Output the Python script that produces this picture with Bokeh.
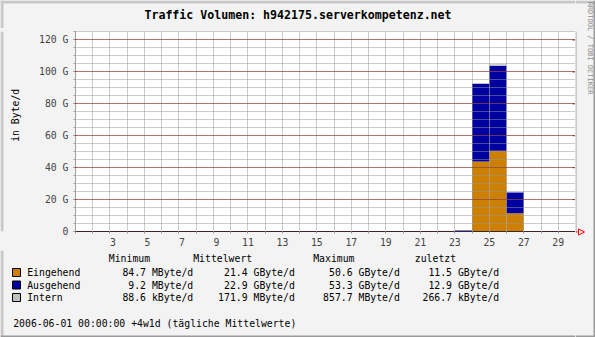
import math
from bokeh.plotting import figure
from bokeh.layouts import row, column
from bokeh.models import Range1d, FixedTicker, ColumnDataSource
from bokeh.core.properties import value
from bokeh.embed import file_html
from bokeh.resources import INLINE

W, H = 595, 337

# ---- data (GByte per day) ----
days = [22, 23, 24, 25, 26]
eingehend = [0.0, 0.1, 43.9, 50.6, 11.5]
ausgehend = [0.0, 0.45, 48.6, 53.3, 12.9]
intern = [0.45, 0.05, 0.6, 0.86, 0.0003]

x_ticks = list(range(1, 31))
x_label_days = list(range(3, 30, 2))
y_ticks = [0, 20, 40, 60, 80, 100, 120]
y_labels = ["0", "20 G", "40 G", "60 G", "80 G", "100 G", "120 G"]
y_minor = list(range(0, 126, 5))

title = "Traffic Volumen: h942175.serverkompetenz.net"
y_title = "in Byte/d"
footer = "2006-06-01 00:00:00 +4w1d (tägliche Mittelwerte)"
credit = "RRDTOOL / TOBI OETIKER"

series_names = ["Eingehend", "Ausgehend", "Intern"]
series_colors = ["#CC7F00", "#0000A0", "#C0C0C0"]
stat_headers = ["Minimum", "Mittelwert", "Maximum", "zuletzt"]
stat_min = ["84.7 MByte/d", "9.2 MByte/d", "88.6 kByte/d"]
stat_avg = ["21.4 GByte/d", "22.9 GByte/d", "171.9 MByte/d"]
stat_max = ["50.6 GByte/d", "53.3 GByte/d", "857.7 MByte/d"]
stat_last = ["11.5 GByte/d", "12.9 GByte/d", "266.7 kByte/d"]

MONO = "DejaVu Sans Mono"
FS = "9.8px"
BG = "#F3F3F3"
SHADEA = "#C8C8C8"
SHADEB = "#9A9A9A"
GRID = "#999999"
MGRID = "#8B1A1A"
AXIS = "#A0A0A0"

# canvas layout (pixels): frame of the chart
FL, FR, FT, FB = 75, 575, 31, 231
TOP_H = 28          # title strip height
LEFT_W = 25         # y-title strip width
MID_B = 250         # bottom of chart strip


def strip(x0, x1, y0, y1):
    f = figure(width=x1 - x0, height=y1 - y0, x_range=Range1d(x0, x1),
               y_range=Range1d(y1, y0), output_backend="svg", toolbar_location=None,
               min_border=0, x_axis_location=None, y_axis_location=None,
               outline_line_color=None, background_fill_color=BG, border_fill_color=BG)
    f.grid.visible = False
    return f


def band(f, l, r, t, b, color):
    f.quad(left=[l], right=[r], top=[t], bottom=[b], fill_color=color, line_color=None)


def txt(f, s, x, y, align="left", size=FS, bold=False, color="black", angle=0.0):
    f.text(x=[x], y=[y], text=[s], text_align=align, text_baseline="middle",
           text_font=value(MONO), text_font_size=value(size),
           text_font_style="bold" if bold else "normal", text_color=color, angle=angle)


# ---------------- chart ----------------
src = ColumnDataSource(dict(
    x=[d + 0.5 for d in days],
    ein=eingehend, aus=ausgehend, intern=intern,
))

p = figure(width=FR - LEFT_W, height=MID_B - TOP_H, x_range=Range1d(1, 30),
           y_range=Range1d(0, 125.3), output_backend="svg", toolbar_location=None,
           min_border_left=FL - LEFT_W, min_border_right=0, min_border_top=FT - TOP_H,
           min_border_bottom=MID_B - FB,
           background_fill_color="white", border_fill_color=BG, outline_line_color=None)
p.title.visible = False

p.vbar_stack(["ein", "aus", "intern"], x="x", width=1, source=src,
             fill_color=series_colors, line_color=None)

# inward major ticks on the right edge
p.segment(x0=[30 - 3 / 17.24] * len(y_ticks), x1=[30] * len(y_ticks), y0=y_ticks, y1=y_ticks,
          line_color=MGRID, line_width=1)

p.xaxis.ticker = FixedTicker(ticks=x_ticks)
overrides = {}
for d in x_ticks:
    if d in x_label_days:
        overrides[d] = ("\u00a0" + str(d)) if d < 10 else str(d)
    else:
        overrides[d] = ""
p.xaxis.major_label_overrides = overrides
p.xaxis.axis_line_color = "#3A2626"
p.xaxis.major_tick_line_color = GRID
p.xaxis.major_tick_out = 2
p.xaxis.major_tick_in = 0
p.xaxis.minor_tick_line_color = None
p.xaxis.major_label_text_font = MONO
p.xaxis.major_label_text_font_size = FS
p.xaxis.major_label_standoff = 3

yt = FixedTicker(ticks=y_ticks, minor_ticks=y_minor)
p.yaxis.ticker = yt
p.yaxis.major_label_overrides = {t: l for t, l in zip(y_ticks, y_labels)}
p.yaxis.axis_line_color = AXIS
p.yaxis.major_tick_line_color = MGRID
p.yaxis.major_tick_out = 2
p.yaxis.major_tick_in = 1
p.yaxis.minor_tick_line_color = AXIS
p.yaxis.minor_tick_out = 2
p.yaxis.minor_tick_in = 0
p.yaxis.major_label_text_font = MONO
p.yaxis.major_label_text_font_size = FS
p.yaxis.major_label_standoff = 5

p.xgrid.ticker = FixedTicker(ticks=x_ticks)
p.xgrid.grid_line_color = GRID
p.xgrid.grid_line_dash = "1 1"
p.ygrid.grid_line_color = MGRID
p.ygrid.grid_line_dash = "1 1"
p.ygrid.minor_grid_line_color = GRID
p.ygrid.minor_grid_line_dash = "1 1"
p.xgrid.level = "overlay"
p.ygrid.level = "overlay"

# ---------------- title strip ----------------
ft = strip(0, FR, 0, TOP_H)
band(ft, 0, FR, 0, 3, SHADEA)
band(ft, 0, 3, 0, TOP_H, SHADEA)
txt(ft, title, 297.5, 14, align="center", size="11.6px", bold=True)

# ---------------- y-title strip ----------------
fl = strip(0, LEFT_W, TOP_H, MID_B)
band(fl, 0, 3, TOP_H, MID_B, SHADEA)
txt(fl, y_title, 15, 121, align="center", angle=math.pi / 2)

# ---------------- legend strip ----------------
fb = strip(0, FR, MID_B, H)
band(fb, 0, 3, MID_B, H, SHADEA)
band(fb, 0, FR, H - 2, H, SHADEB)
header_x = [108.3, 192.7, 312.7, 414.3]
for hx, ht in zip(header_x, stat_headers):
    txt(fb, ht, hx, 258)
row_y = [272, 284.5, 297]
col_right = [192.7, 294.3, 399.3, 498.7]
for i, name in enumerate(series_names):
    yy = row_y[i]
    fb.quad(left=[12], right=[20], top=[yy - 4], bottom=[yy + 4],
            fill_color=series_colors[i], line_color="black", line_width=1)
    txt(fb, name, 26.7, yy)
    for cx, vals in zip(col_right, [stat_min, stat_avg, stat_max, stat_last]):
        txt(fb, vals[i], cx, yy, align="right")
txt(fb, footer, 12.7, 323)

# ---------------- right strip ----------------
fr = strip(FR, W, 0, H)
band(fr, FR, W, 0, 3, SHADEA)
band(fr, W - 2, W, 0, H, SHADEB)
band(fr, FR, W, H - 2, H, SHADEB)
fr.segment(x0=[FR + 0.5], x1=[FR + 0.5], y0=[FT], y1=[FB], line_color=AXIS, line_width=1)
fr.segment(x0=[FR], x1=[FR + 3], y0=[FB + 0.5], y1=[FB + 0.5], line_color="red", line_width=1)
fr.patch(x=[FR + 3, FR + 3, FR + 9], y=[FB - 2.5, FB + 3.5, FB + 0.5],
         fill_color=None, line_color="red", line_width=1)
txt(fr, credit, 589, 47.5, align="center", size="7px", color="#8C8C8C",
    angle=-math.pi / 2)

bgstyle = {"background-color": BG}
layout = row(column(ft, row(fl, p, styles=bgstyle), fb, styles=bgstyle), fr, styles=bgstyle)

open("out.html", "w").write(file_html(layout, INLINE))
